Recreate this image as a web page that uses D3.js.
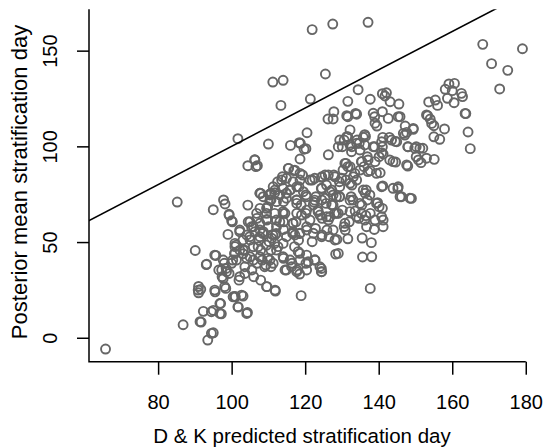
<!DOCTYPE html>
<html>
<head>
<meta charset="utf-8">
<script src="https://cdn.jsdelivr.net/npm/d3@7"></script>
<style>
  body { margin: 0; background: #fff; }
  svg { display: block; font-family: "Liberation Sans", Arial, sans-serif; }
</style>
</head>
<body>
<div id="chart"></div>
<script>
// D & K predicted day vs posterior mean day
const obs = [
  [65.7,-5.9],[85.2,70.9],[86.8,6.8],[90.1,45.6],[101.7,104],[121.9,161],[127.5,163.9],[137.1,164.8],
  [125.5,137.8],[111.2,133.6],[114,134.5],[113.4,121.4],[121.4,124.7],[168.3,153.3],[179.1,151],[170.7,143.2],
  [175.1,139.7],[172.9,130],[134.4,129.6],[164.9,98.8],[164.3,107.5],[163.7,117.1],[137.7,25.8],[118.9,22],
  [93.5,-1.2],[95,2.6],[91.7,8.2],[92.3,13.8],[95,14.3],[97.2,12.5],[97,17.9],[104.3,13.2],
  [101.8,16],[103.1,21.8],[101,21.4],[91,26.8],[91,23.5],[91.6,25.3],[95.5,24],[93.1,38.2],
  [95.7,43],[95,66.9],[97.8,72],[98.2,69.9],[99.3,64.5],[100,61.1],[99,54],[104.4,69.3],
  [104.4,89.9],[106.3,93],[107,89.9],[110,101.2],[116,100.5],[118.7,101.6],[120.2,98.8],[120.5,107.1],
  [126.3,95.6],[126.2,114.3],[127.8,118.1],[127.6,114.3],[131.6,123.5],[131.6,115.5],[133.7,117.2],[137.7,124.6],
  [141,127.5],[142.1,128],[143.1,123.3],[145.5,122.1],
  [153.6,123.2],[155.4,124.2],[156,121.4],[153.3,116],[154,114.3],[154.4,112],[155,110.8],[157.9,109.1],
  [155,105],[156.6,103.7],[155.1,93.2],[158.1,129.8],[159.1,132.6],[160.6,132.9],[160,129.1],[158.7,125.1],
  [160.5,122.8],[162.5,127.7],[162.8,126],[163.5,117.2],
  [145.8,115.5],[147.2,110.6],[149.4,108.9],[147.6,107.3],[144.5,102.6],[147.9,99.8],[150.2,99.8],[152,99],
  [150.2,94.6],[151.5,91.5],[147.9,89.7],[148.9,72.8],[145.2,78],[146.2,73.7],[143.9,92],[144.6,91.8],
  [141.7,126.3],[141,118.1],[142.6,114.6],[138.9,115.5],[139.5,110.6],[141.1,104.7],[142.9,104.7],[138.9,99.8],
  [141,99.8],[141.2,96],[140.1,94.6],[140.4,86.2],[141.1,79.3],[139.7,70.6],[140.1,68.5],[141,67.6],
  [141.2,61.5],[138.8,56.6],[138,49.7],[138.1,42.3],[135.6,42.2],[135.5,52.1],
  [136.2,106.1],[136.4,105.2],[134.1,103.3],[134.7,101.6],[136.9,94.6],[135.4,92],[136,89.4],[137.7,87.3],
  [136.6,77.2],[136.3,75.5],[136.9,72],[135.4,69.3],[137.7,65],[135.3,65],[134.6,62.4],[136.5,63.8],
  [130.6,103.3],[131.6,105],[132.7,99.8],[130.1,99.8],[131.6,89.4],[131.1,91.1],[133.5,85.9],[132.7,79.8],
  [131.1,82.4],[132.5,73.7],[133,72],[133.6,66.2],[130.1,66.7],[132,60.6],[130.6,58],[130.9,56.3],
  [131.6,51.7],[128.6,51.4],[128.3,43.7],[129,44.1],
  [125.4,85],[127.8,85],[124.5,83.8],[129.3,81.5],[124.4,78],[126.8,76.3],[129.3,73.7],[122.9,73.7],
  [125.7,70.2],[127.6,69.3],[128,65],[123.5,66.7],[124.6,62.4],[126.3,61.5],[125.9,56.3],[122.8,57.1],
  [124.6,53.7],[126.5,52.8],[121.9,50.2],[124.4,36.2],[122.7,40.6],[124.4,34.5],
  [115.5,88.5],[116.9,87.3],[119.3,85],[121.9,82.4],[118.3,78.9],[120.2,74.6],[122.4,70.8],[117.7,72],
  [118.9,69.3],[120.2,65],[117.5,60.6],[120.4,56.3],[118.5,54.5],[116.6,54.5],[118.2,51],[117.1,47.6],
  [118.5,44.1],[120.2,38.9],[117.8,35.4],[118.5,33.3],[116.4,38.9],[115.9,40.6],[114.5,35.4],
  [113.8,84.1],[112.5,81.5],[116,77.2],[114.9,75.5],[111.7,75.8],[114.1,71.1],[110.7,75.5],[110.7,72],
  [109.8,68.5],[111.7,65],[114.5,65],[114.1,60.6],[109.6,61.8],[114.1,56.6],[112.1,54.5],[111.2,53.7],
  [110.2,50.2],[111.7,49.3],[112.6,47.6],[110.7,45.8],[109.8,41.5],[109.3,38],[110.7,37.1],[114.1,41.5],
  [109.6,26.7],[111.9,24.4],
  [107.9,75.4],[106.9,62.4],[105,60.6],[105.9,58],[107.7,56.3],[108.4,54.5],[104.1,53.7],[107.4,51],
  [105.9,47.6],[107.9,45.8],[103.6,45.8],[105,42.3],[106.9,38.9],[108.3,40.6],[103.6,37.1],[105.5,35.4],
  [107.9,30.1],[106,31.9],[103.6,33.6],
  [102.2,56.3],[101.2,48.4],[100.8,44.1],[100.3,40.6],[98,38.9],[98.5,36.2],[96.5,35.4],[97.4,31.9],
  [99.3,33.6],[102.2,31.9],[102,30.1],[103.1,43.9],[98.4,25.8],[100.8,21.6],
  [132.2,108.6],[118.6,93.4],[131.3,116],[134,116.8],[138.5,117.3],[139,112.1],[145.3,115.5],
  [146.7,106.8],[149.4,109.4],[153,116.4],[118.4,101.9],[119.7,98.5],
  [129.4,103.3],[131.3,105.1],[129,99.8],[132.2,100.7],[134,101.6],[135.8,104.7],[136.2,100.7],
  [132.6,97.2],[134.9,98.1],[138.5,99.8],[140.8,102.4],[143.5,103.3],[144.9,102.4],[147.1,105.9],
  [148,99.8],[149.8,99],[151.2,99],[153,93.8],[150.8,92.9],[147.6,90.3],
  [140.8,96.7],[143,92.9],[139,92],[137.1,92.9],[135.3,92],[130.8,91.1],[132.2,89.4],[130.3,87.6],
  [133.1,84.1],[134.9,87.6],[137.1,86.8],[139.4,85.9],
  [124.5,84.1],[126.3,85],[128.1,84.1],[129.9,83.3],[122.6,83.3],[121.3,82.4],
  [116.7,81.5],[114.9,83.3],[113.6,82.4],[118.6,82.4],[111.3,78.9],[107.7,75.5],[110.4,74.6],[114,78.1],
  [115.8,77.2],[117.7,78.9],[115.4,88.5],[117.2,87.6],[118.6,85.9],[106.3,92.9],[106.6,89.4],
  [125.8,79.8],[124.5,78.1],[127.2,77.2],[129.4,78.9],[132.2,80.7],[134,82.4],
  [140.8,78.9],[143.9,78.1],[145.3,78.9],[145.8,73.7],[148.5,72.9],
  [135.8,77.2],[137.6,74.6],[139.4,70.2],[134.9,70.2],[132.2,71.9],[129.4,73.7],[127.6,74.6],[125.4,72.9],
  [122.6,71.9],[120.4,73.7],[119.5,76.3],[117.7,70.2],[114.9,72.9],[113.1,74.6],[111.8,77.2],[110.4,71.9],
  [108.6,73.7],[107.7,67.6],
  [106.8,65],[109.5,65],[112.2,61.5],[114,65],[116.7,59.8],[119,64.1],[121.3,61.5],[123.5,65.9],
  [125.8,63.2],[128.5,65],[130.8,59.8],[132.2,65.9],[134,63.2],[136.2,61.5],[139,61.5],[140.8,63.2],
  [141.2,58],[136.7,58],
  [99.3,64.1],[100.2,60.6],[102.2,55.4],[104.5,60.6],[105.4,58],[104.9,52.8],[106.3,55.4],
  [100.9,49.3],[103.1,45.8],[100.9,44.1],[104.1,41.5],[101.3,40.6],[100,38.9],[97.7,40.6],[95.4,43.2],
  [93.2,38.5],[97.3,35.4],[98.6,34.5],[97.7,31],[95.4,24.9],[98.1,26.7],[100.4,21.4],[102.7,22.3],
  [101.7,16.2],[104.1,12.7],[96.8,17.9],[96.8,12.7],[94.5,13.6],[91.4,8.4],[94.5,2.3],[90.9,24.9],
  [102.2,45.8],[100.9,47.6],[103.1,51.1],[105,51.1],[107.7,52.8],[107.2,47.6],[109.5,48.4],[110.9,52],
  [111.8,53.7],[108.6,55.4],[110,58],[107.7,59.8],[112.2,58],[109.5,61.5],
  [105.9,40.6],[107.7,42.3],[109,37.1],[111.3,38.9],[110.4,40.6],[112.2,45.8],[114,49.3],[114.9,52.8],
  [117.2,53.7],[118.1,45],[118.6,40.6],[120.8,39.7],[122.6,40.6],[124,37.1],[124.5,34.5],[120.4,43.2],
  [109.5,26.7],[111.8,24.9],[114,42.3],[116.3,37.1],[117.7,34.5],[114.9,35.4],[120.4,35.4],
  [107.7,75.5],[110.4,75.1],[112.2,71.1],[114.9,75.5],[117.7,72],[122.2,69.4],[124.5,72],[127.2,69.4],
  [128.5,73.7],[109.5,67.6],[114,65.9],[117.7,65],[120.4,66.7],[124,64.1],[126.7,63.2],[129,65],
  [113.1,60.6],[116.7,59.8],[120.4,58],[122.2,54.6],[124.5,52.8],[118.6,54.6],[116.7,55.4],[127.6,56.3],
  [128.1,51.1]
];

const xTicks = [80, 100, 120, 140, 160, 180];
const yTicks = [0, 50, 100, 150];
const xTitle = 'D & K predicted stratification day';
const yTitle = 'Posterior mean stratification day';

const width = 544;
const height = 447;
const plot = { left: 89, right: 539, top: 9.3, bottom: 361.7 };

const x = d3.scaleLinear().domain([61.2, 183.6]).range([plot.left, plot.right]);
const y = d3.scaleLinear().domain([-12.5, 171.6]).range([plot.bottom, plot.top]);

const svg = d3.select('#chart')
  .append('svg')
  .attr('width', width)
  .attr('height', height);

svg.append('defs').append('clipPath').attr('id', 'clip')
  .append('rect')
  .attr('x', plot.left).attr('y', plot.top)
  .attr('width', plot.right - plot.left).attr('height', plot.bottom - plot.top);

// points
svg.append('g')
  .attr('class', 'dots')
  .selectAll('circle')
  .data(obs)
  .join('circle')
  .attr('cx', (d) => x(d[0]))
  .attr('cy', (d) => y(d[1]))
  .attr('r', 4.5)
  .attr('fill', 'none')
  .attr('stroke', '#666')
  .attr('stroke-width', 1.9);

// 1:1 line
svg.append('line')
  .attr('clip-path', 'url(#clip)')
  .attr('x1', x(0)).attr('y1', y(0))
  .attr('x2', x(200)).attr('y2', y(200))
  .attr('stroke', '#000')
  .attr('stroke-width', 1.6);

// axes
const xAxis = svg.append('g')
  .attr('transform', `translate(0, ${plot.bottom})`)
  .call(d3.axisBottom(x).tickValues(xTicks).tickSize(13).tickSizeOuter(0).tickPadding(20));
xAxis.select('.domain').remove();
xAxis.selectAll('line').attr('stroke', '#000').attr('stroke-width', 1.5);
xAxis.selectAll('text').attr('font-size', 20).attr('fill', '#000').attr('font-family', null);

const yAxis = svg.append('g')
  .attr('transform', `translate(${plot.left}, 0)`)
  .call(d3.axisLeft(y).tickValues(yTicks).tickSize(12).tickSizeOuter(0));
yAxis.select('.domain').remove();
yAxis.selectAll('line').attr('stroke', '#000').attr('stroke-width', 1.5);
yAxis.selectAll('text')
  .attr('font-size', 20).attr('fill', '#000').attr('font-family', null)
  .attr('x', null).attr('dy', null)
  .attr('text-anchor', 'middle')
  .attr('transform', `translate(${57 - plot.left}, 0) rotate(-90)`);

// L-shaped frame
svg.append('path')
  .attr('d', `M${plot.left},${plot.top}V${plot.bottom}H${x(180)}`)
  .attr('fill', 'none')
  .attr('stroke', '#000')
  .attr('stroke-width', 1.5);

svg.append('text')
  .attr('x', 302)
  .attr('y', 443)
  .attr('text-anchor', 'middle')
  .attr('font-size', 20.5)
  .text(xTitle);

svg.append('text')
  .attr('transform', `translate(27, 182) rotate(-90)`)
  .attr('text-anchor', 'middle')
  .attr('font-size', 22)
  .text(yTitle);
</script>
</body>
</html>
